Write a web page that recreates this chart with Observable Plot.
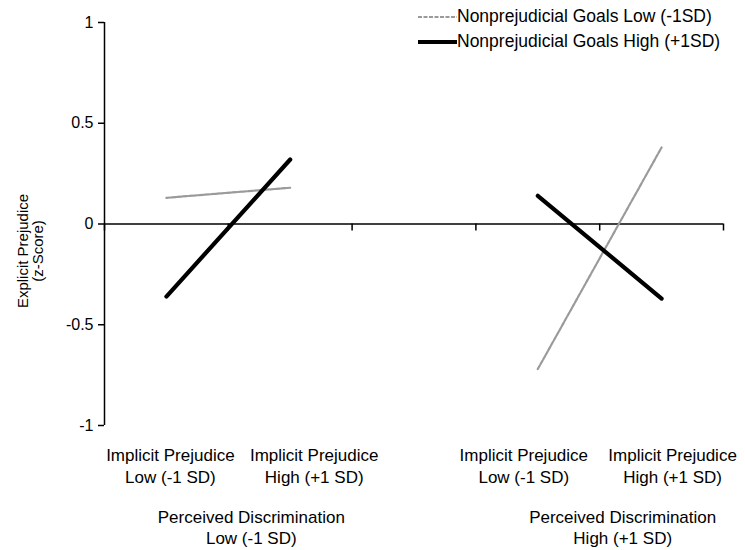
<!DOCTYPE html>
<html>
<head>
<meta charset="utf-8">
<script src="https://cdn.jsdelivr.net/npm/d3@7"></script>
<script src="https://cdn.jsdelivr.net/npm/@observablehq/plot@0.6"></script>
<style>
  html, body { margin: 0; padding: 0; background: #fff; }
  #wrap { position: relative; width: 745px; height: 550px; font-family: "Liberation Sans", Arial, sans-serif; }
  #legend { position: absolute; left: 418px; top: 4px; font-size: 17.5px; color: #000; }
  .row { display: flex; align-items: center; height: 25px; }
  .row svg { display: block; }
</style>
</head>
<body>
<div id="wrap"><div id="chart"></div><div id="legend"></div></div>
<script>
const categories = [
  "Implicit Prejudice\nLow (-1 SD)",
  "Implicit Prejudice\nHigh (+1 SD)",
  "",
  "Implicit Prejudice\nLow (-1 SD)",
  "Implicit Prejudice\nHigh (+1 SD)"
];
const groups = ["Perceived Discrimination\nLow (-1 SD)", "Perceived Discrimination\nHigh (+1 SD)"];
const groupCenters = [1, 4];
const seriesNames = ["Nonprejudicial Goals Low (-1SD)", "Nonprejudicial Goals High (+1SD)"];
const goalsLow = [0.13, 0.18, null, -0.72, 0.38];
const goalsHigh = [-0.36, 0.32, null, 0.14, -0.37];
const yTicks = [-1, -0.5, 0, 0.5, 1];
const xTicks = [0, 1, 2, 3, 4, 5];

const W = 745, H = 550, mT = 22, mB = 125, mL = 104, mR = 22;
const yDomain = [-1, 1];
const tickLen = 7 * (yDomain[1] - yDomain[0]) / (H - mT - mB);

// label nudges (pixels) so that adjacent category labels do not collide
const labelNudge = [4, 24, 0, -14, 11];

const rows = [];
categories.forEach((c, i) => rows.push({series: seriesNames[0], x: i + 0.5, y: goalsLow[i]}));
categories.forEach((c, i) => rows.push({series: seriesNames[1], x: i + 0.5, y: goalsHigh[i]}));
const styles = {
  [seriesNames[0]]: {stroke: "#9a9a9a", width: 2.2, dash: "4 1.5"},
  [seriesNames[1]]: {stroke: "#000", width: 4.2, dash: null}
};

const chart = Plot.plot({
  width: W, height: H,
  marginTop: mT, marginBottom: mB, marginLeft: mL, marginRight: mR,
  style: {fontFamily: "'Liberation Sans', Arial, sans-serif", fontSize: "17px", color: "#000", background: "#fff"},
  x: {type: "linear", domain: [0, categories.length], axis: null},
  y: {domain: yDomain, axis: null},
  marks: [
    Plot.ruleX([0], {stroke: "#000", strokeWidth: 1.5}),
    Plot.axisY(yTicks, {tickSize: 6, tickPadding: 5, fontSize: 16, tickFormat: d => String(d), strokeWidth: 1.5, label: null}),
    Plot.ruleY([0], {stroke: "#000", strokeWidth: 1.5}),
    Plot.ruleX(xTicks, {x: d => d, y1: 0, y2: -tickLen, stroke: "#000", strokeWidth: 1.5}),
    Plot.line(rows.filter(r => r.series === seriesNames[0]), {x: "x", y: "y", stroke: styles[seriesNames[0]].stroke, strokeWidth: styles[seriesNames[0]].width, strokeDasharray: styles[seriesNames[0]].dash}),
    Plot.line(rows.filter(r => r.series === seriesNames[1]), {x: "x", y: "y", stroke: styles[seriesNames[1]].stroke, strokeWidth: styles[seriesNames[1]].width, strokeLinecap: "round"}),
    ...categories.map((c, i) => Plot.text([c], {x: () => i + 0.5, text: d => d, frameAnchor: "bottom", lineAnchor: "top", dy: 21, dx: labelNudge[i], fontSize: 17, lineHeight: 1.24, fill: "#000"})),
    Plot.text(groups, {x: (d, i) => groupCenters[i], text: d => d, frameAnchor: "bottom", lineAnchor: "top", dy: 83, dx: 23, fontSize: 17, lineHeight: 1.22, fill: "#000"}),
    Plot.text(["Explicit Prejudice\n(z-Score)"], {frameAnchor: "left", text: d => d, rotate: -90, textAnchor: "middle", dx: -74, dy: 27, fontSize: 15, lineHeight: 1.05, fill: "#000"})
  ]
});
document.getElementById("chart").appendChild(chart);

const legend = document.getElementById("legend");
seriesNames.forEach(name => {
  const s = styles[name];
  const row = document.createElement("div");
  row.className = "row";
  row.innerHTML = `<svg width="39" height="10"><line x1="0" x2="39" y1="5" y2="5" stroke="${s.stroke}" stroke-width="${s.width}" ${s.dash ? `stroke-dasharray="${s.dash}"` : ""}></line></svg><span>${name}</span>`;
  legend.appendChild(row);
});
</script>
</body>
</html>
